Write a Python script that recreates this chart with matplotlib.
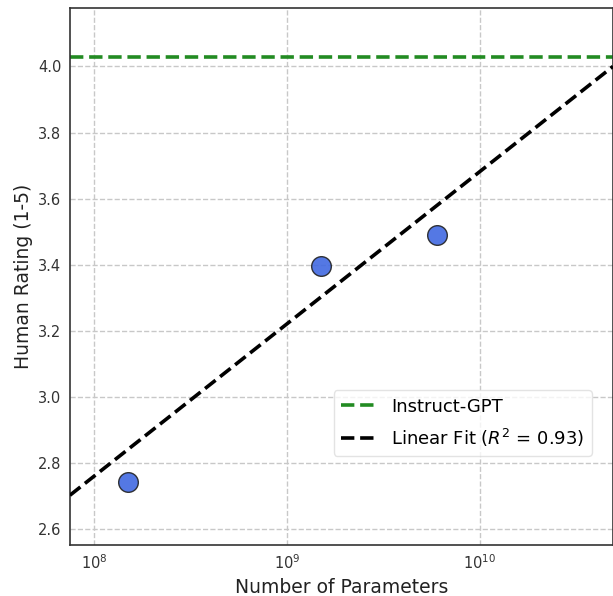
import numpy as np
import matplotlib
matplotlib.use("Agg")
import matplotlib.pyplot as plt

# model sizes (number of parameters) and mean human rating
params = [1.5e8, 1.5e9, 6.0e9]
ratings = [2.742, 3.395, 3.490]

instruct_gpt = 4.028

# linear fit in log10(params)
fit_slope = 0.461
fit_intercept = -0.928
fit_r2 = 0.93

x_range = [7.5e7, 4.9e10]
y_range = [2.552, 4.177]

plt.rcParams['font.family'] = ['DejaVu Sans']
plt.rcParams['mathtext.fontset'] = 'dejavusans'

fig = plt.figure(figsize=(6.13, 5.96), dpi=100)
ax = fig.add_axes([0.114, 0.0856, 0.886, 0.901])

ax.grid(True, which='major', linestyle='--', color='#c8c8c8', linewidth=1.0)
ax.set_axisbelow(True)

ax.axhline(instruct_gpt, color='forestgreen', linestyle='--', linewidth=2.6,
           label='Instruct-GPT', zorder=2)

xs = np.logspace(np.log10(x_range[0]), np.log10(x_range[1]), 50)
ax.plot(xs, fit_intercept + fit_slope * np.log10(xs), color='black',
        linestyle='--', linewidth=2.6,
        label='Linear Fit ($R^2$ = {:.2f})'.format(fit_r2), zorder=3)

ax.scatter(params, ratings, s=200, color='royalblue', alpha=0.9,
           edgecolor='#222222', linewidth=1.0, zorder=4)

ax.set_xscale('log')
ax.set_xlim(x_range)
ax.set_ylim(y_range)
ax.minorticks_off()
ax.set_yticks([2.6, 2.8, 3.0, 3.2, 3.4, 3.6, 3.8, 4.0])

for s in ['left', 'bottom', 'top', 'right']:
    ax.spines[s].set_color('#333333')
    ax.spines[s].set_linewidth(1.2)

ax.tick_params(axis='both', labelsize=10.5, colors='#333333', length=0, pad=6)
ax.set_xlabel('Number of Parameters', fontsize=13.5, color='#222222')
ax.set_ylabel('Human Rating (1-5)', fontsize=13.5, color='#222222')

leg = ax.legend(loc='lower right', bbox_to_anchor=(0.961, 0.166), fontsize=13,
                frameon=True, fancybox=True, handlelength=2.0,
                labelspacing=0.6, borderaxespad=0)
leg.get_frame().set_edgecolor('#dddddd')

plt.savefig('out.png', dpi=100)
